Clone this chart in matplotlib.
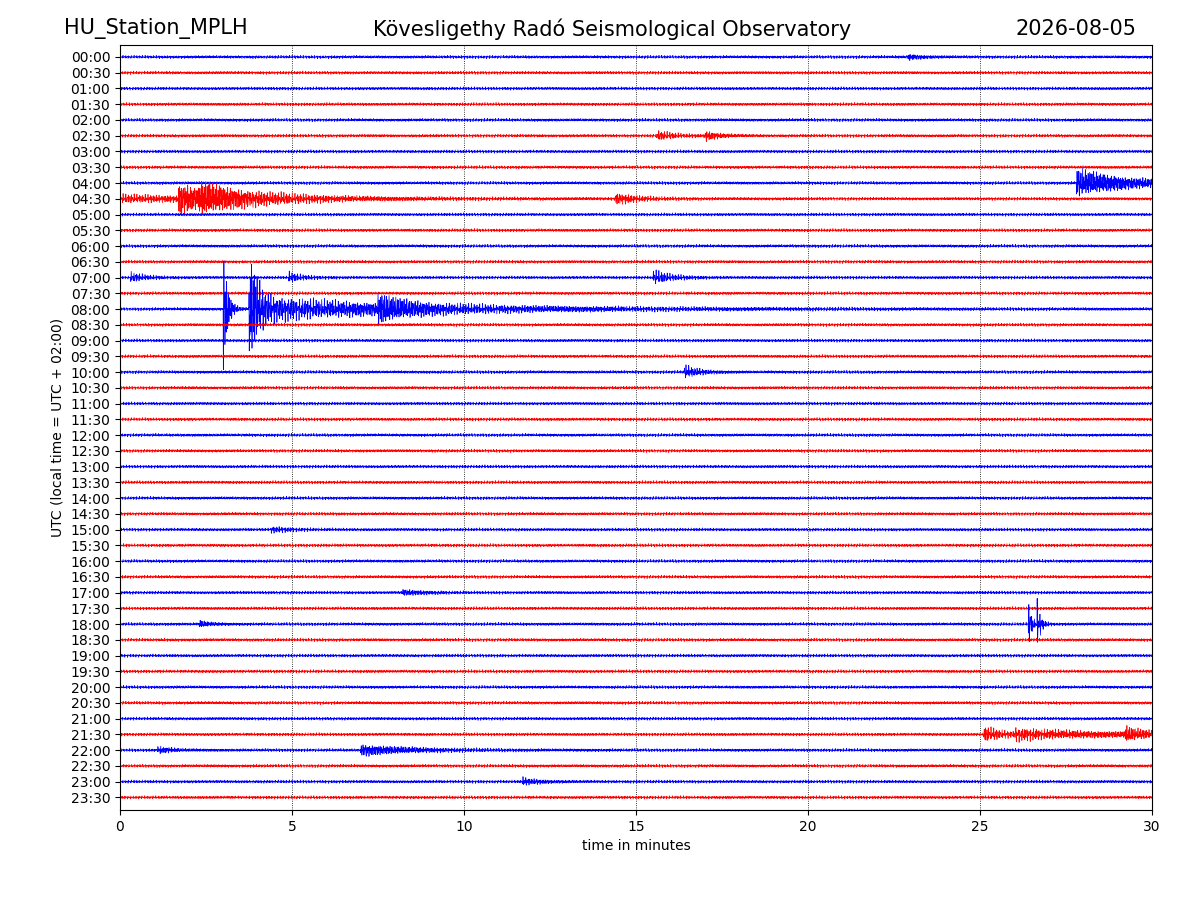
import matplotlib
matplotlib.use("Agg")
import numpy as np
import matplotlib.pyplot as plt

station = "HU_Station_MPLH"
title = "Kövesligethy Radó Seismological Observatory"
date_label = "2026-08-05"
row_labels = ["%02d:%02d" % (h, m) for h in range(24) for m in (0, 30)]
colors = ["blue", "red"]
noise_amp = 0.07

# events: (row, onset minute, decay minutes, amplitude in row units)
ev_row = [0, 5, 5, 8, 9, 9, 9, 9, 14, 14, 14, 16, 16, 16, 16, 20, 30, 34, 36, 36, 36, 43, 43, 43, 44, 44, 46]
ev_t0 = [22.9, 15.6, 17.0, 27.8, 0.0, 1.7, 2.3, 14.4, 0.3, 4.9, 15.5, 3.0, 3.75, 3.9, 7.5, 16.4, 4.4, 8.2, 2.3, 26.4, 26.65, 25.1, 29.2, 26.0, 7.0, 1.1, 11.7]
ev_dec = [0.4, 0.5, 0.4, 1.5, 4.0, 1.0, 2.0, 0.6, 0.4, 0.4, 0.5, 0.12, 0.2, 5.0, 0.8, 0.4, 0.5, 0.6, 0.3, 0.1, 0.1, 0.6, 0.5, 4.0, 1.5, 0.4, 0.5]
ev_amp = [0.12, 0.2, 0.2, 0.7, 0.15, 0.7, 0.45, 0.25, 0.2, 0.2, 0.3, 3.3, 3.3, 0.55, 0.55, 0.3, 0.12, 0.12, 0.15, 1.1, 1.1, 0.35, 0.3, 0.2, 0.25, 0.15, 0.15]

x = np.linspace(0, 30, 9000)

fig = plt.figure(figsize=(12, 9), dpi=100)
ax = fig.add_axes([0.1, 0.1, 0.86, 0.85])

for i, lab in enumerate(row_labels):
    ph = i * 1.37
    tex = (np.sin(x * 157.3 + ph) + 0.7 * np.sin(x * 233.9 + 2 * ph)
           + 0.5 * np.sin(x * 311.7 + 3 * ph) + 0.4 * np.sin(x * 97.1 + 5 * ph)) / 1.6
    env = np.full_like(x, noise_amp)
    for r, t0, d, a in zip(ev_row, ev_t0, ev_dec, ev_amp):
        if r == i:
            on = x >= t0
            env = env + np.where(on, a * np.exp(-(x - t0) / d), 0) * np.clip((x - t0 + 0.05) / 0.05, 0, 1)
    ax.plot(x, -i + env * tex, color=colors[i % 2], lw=0.5)

ax.set_xlim(0, 30)
ax.set_ylim(-47.8, 0.76)
ax.set_yticks([-i for i in range(len(row_labels))])
ax.set_yticklabels(row_labels)
ax.set_xticks(range(0, 31, 5))
ax.grid(axis="x", linestyle=":", color="black", lw=0.6)
ax.set_xlabel("time in minutes")
ax.set_ylabel("UTC (local time = UTC + 02:00)")
fig.text(0.053, 0.968, station, fontsize=15, va="center")
fig.text(0.51, 0.968, title, fontsize=15, va="center", ha="center")
fig.text(0.947, 0.968, date_label, fontsize=15, va="center", ha="right")
fig.savefig("out.png")
